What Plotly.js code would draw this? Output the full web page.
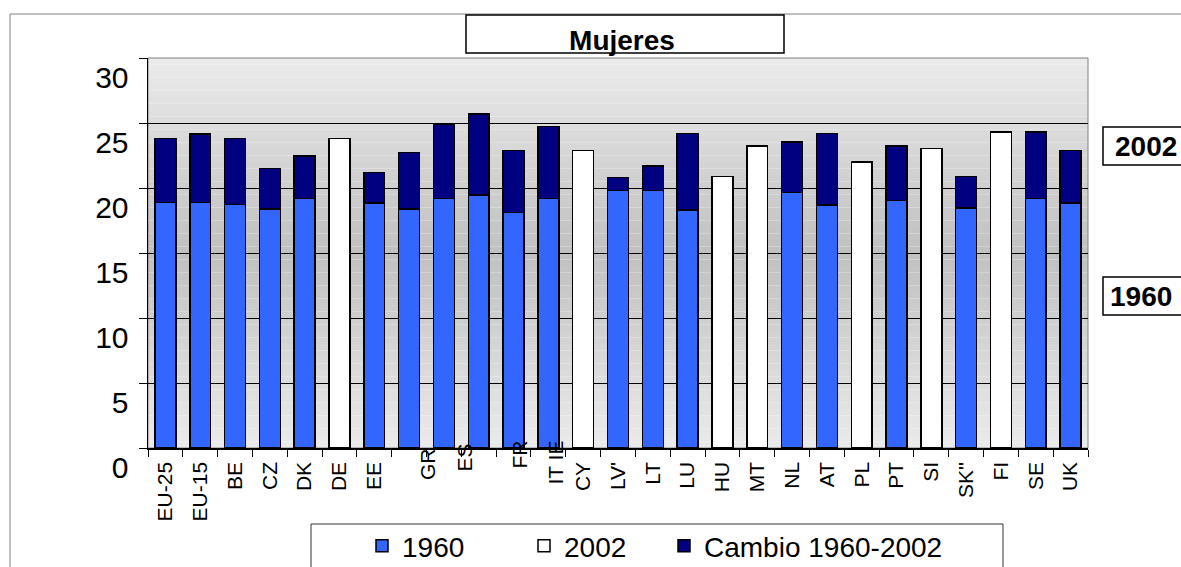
<!DOCTYPE html>
<html>
<head>
<meta charset="utf-8">
<script src="https://cdn.plot.ly/plotly-3.0.1.min.js"></script>
<style>
  html, body { margin: 0; padding: 0; background: #ffffff; }
  #chart { width: 1181px; height: 567px; }
</style>
</head>
<body>
<div id="chart"></div>
<script>
// ---- data ----
const countries = ['EU-25','EU-15','BE','CZ','DK','DE','EE','GR','ES','FR','IE','IT','CY','LV','LT','LU','HU','MT','NL','AT','PL','PT','SI','SK','FI','SE','UK'];
const tickLabels = ['EU-25','EU-15','BE','CZ','DK','DE','EE','','','','','','CY',"LV'",'LT','LU','HU','MT','NL','AT','PL','PT','SI',"SK''",'FI','SE','UK'];
const shiftedLabels = ['GR','ES','FR','IT IE'];
const v1960 = [18.9,18.9,18.75,18.4,19.2,null,18.85,18.4,19.2,19.45,18.1,19.2,null,19.8,19.8,18.3,null,null,19.65,18.7,null,19.05,null,18.45,null,19.2,18.85];
const v2002 = [23.8,24.15,23.8,21.5,22.45,23.8,21.2,22.75,24.9,25.7,22.9,24.75,22.9,20.8,21.7,24.2,20.9,23.25,23.55,24.2,22.0,23.25,23.05,20.9,24.3,24.3,22.9];
const seriesNames = ['1960','2002','Cambio 1960-2002'];
const chartTitle = 'Mujeres';
const sideLabels = ['2002','1960'];
const yTicks = [0,5,10,15,20,25,30];

// derived series
const only2002 = v2002.map((v,i) => v1960[i] == null ? v : null);
const change = v2002.map((v,i) => v1960[i] == null ? null : +(v - v1960[i]).toFixed(2));

const FONT = 'Liberation Sans, Arial, sans-serif';
const barLine = {color:'#000000', width:1.5};

const traces = [
  {type:'bar', name:seriesNames[0], x:countries, y:v1960, marker:{color:'#3366FF', line:barLine}, legendwidth:117},
  {type:'bar', name:seriesNames[1], x:countries, y:only2002, marker:{color:'#FFFFFF', line:barLine}, legendwidth:95},
  {type:'bar', name:seriesNames[2], x:countries, y:change, marker:{color:'#000080', line:barLine}}
];

// plot-area pixel geometry used for paper coordinates
const L = 148, T = 58, W = 940, H = 390, B = T + H;
const px = x => (x - L) / W;
const py = y => (B - y) / H;

const shapes = [];
// vertical gradient background
const N = 60;
for (let k = 0; k < N; k++) {
  const t = (k + 0.5) / N;
  const d = Math.abs(t - 0.5) * 2;
  const g = Math.round(192 + (235 - 192) * d);
  shapes.push({type:'rect', xref:'x domain', yref:'y domain', x0:0, x1:1, y0:k/N, y1:(k+1)/N,
    fillcolor:`rgb(${g},${g},${g})`, line:{width:0}, layer:'below'});
}
// plot frame (top/right)
shapes.push({type:'rect', xref:'x domain', yref:'y domain', x0:0, x1:1, y0:0, y1:1,
  line:{color:'#808080', width:1}, fillcolor:'rgba(0,0,0,0)', layer:'below'});
// outer chart frame
shapes.push({type:'rect', xref:'paper', yref:'paper', x0:px(10), x1:px(1200), y0:py(620), y1:py(14),
  line:{color:'#808080', width:1}, fillcolor:'rgba(0,0,0,0)', layer:'below'});
// title box
shapes.push({type:'rect', xref:'paper', yref:'paper', x0:px(466), x1:px(784), y0:py(53), y1:py(15),
  line:{color:'#000000', width:1.5}, fillcolor:'#FFFFFF', layer:'below'});
// side label boxes
shapes.push({type:'rect', xref:'paper', yref:'paper', x0:px(1103), x1:px(1200), y0:py(165), y1:py(127),
  line:{color:'#000000', width:1.5}, fillcolor:'#FFFFFF', layer:'below'});
shapes.push({type:'rect', xref:'paper', yref:'paper', x0:px(1103), x1:px(1200), y0:py(315), y1:py(277),
  line:{color:'#000000', width:1.5}, fillcolor:'#FFFFFF', layer:'below'});
// legend box
shapes.push({type:'rect', xref:'paper', yref:'paper', x0:px(311), x1:px(1003), y0:py(620), y1:py(524),
  line:{color:'#333333', width:1}, fillcolor:'rgba(0,0,0,0)', layer:'below'});

const annotations = [
  {xref:'paper', yref:'paper', x:px(1113), y:py(146), xanchor:'left', yanchor:'middle', showarrow:false,
   text:'<b>'+sideLabels[0]+'</b>', font:{family:FONT, size:28, color:'#000'}},
  {xref:'paper', yref:'paper', x:px(1108), y:py(296), xanchor:'left', yanchor:'middle', showarrow:false,
   text:'<b>'+sideLabels[1]+'</b>', font:{family:FONT, size:28, color:'#000'}}
];
// misplaced category labels (as in the reference)
const shiftedPos = [[427, 447],[463.5, 443],[518.5, 440],[554.5, 440]];
shiftedLabels.forEach((s, i) => {
  annotations.push({xref:'paper', yref:'paper', x:px(shiftedPos[i][0]), y:0, yshift:(B - shiftedPos[i][1]),
    xanchor:'center', yanchor:'top', textangle:-90, showarrow:false, text:s,
    font:{family:FONT, size:21, color:'#000'}, borderpad:0});
});

const layout = {
  width:1181, height:567,
  margin:{l:L, r:1181 - L - W, t:T, b:567 - B, pad:0, autoexpand:false},
  paper_bgcolor:'#FFFFFF', plot_bgcolor:'rgba(0,0,0,0)',
  font:{family:FONT, color:'#000'},
  barmode:'stack', bargap:0.4,
  title:{text:'<b>'+chartTitle+'</b>', font:{family:FONT, size:28, color:'#000'},
    xref:'paper', x:px(622), xanchor:'center', yref:'container', y:1 - 40/567, yanchor:'middle'},
  xaxis:{type:'category', tickvals:countries, ticktext:tickLabels, tickangle:-90,
    tickfont:{family:FONT, size:21, color:'#000'}, tickson:'boundaries', ticks:'outside', ticklen:7,
    tickcolor:'#000', showline:true, linecolor:'#000', linewidth:1.5, showgrid:false, zeroline:false,
    ticklabelstandoff:4, fixedrange:true, automargin:false},
  yaxis:{range:[0,30], tickvals:yTicks, ticks:'outside', ticklen:8, tickcolor:'#000',
    tickfont:{family:FONT, size:30, color:'#000'}, showline:true, linecolor:'#000', linewidth:1.5,
    showgrid:true, gridcolor:'#000000', gridwidth:1, zeroline:false, ticklabelshift:19,
    ticklabelstandoff:4, fixedrange:true, automargin:false},
  showlegend:true,
  legend:{orientation:'h', x:px(362), xanchor:'left', y:py(521), yanchor:'top', yref:'paper',
    font:{family:FONT, size:28, color:'#000'}, bgcolor:'rgba(0,0,0,0)', borderwidth:0, traceorder:'normal'},
  shapes:shapes, annotations:annotations
};

Plotly.newPlot('chart', traces, layout, {displayModeBar:false, staticPlot:true});
</script>
</body>
</html>
